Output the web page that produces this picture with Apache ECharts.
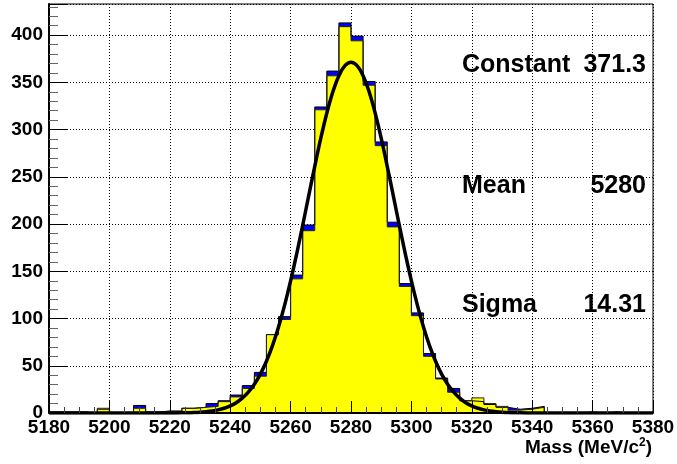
<!DOCTYPE html>
<html>
<head>
<meta charset="utf-8">
<title>Mass fit</title>
<script src="https://cdn.jsdelivr.net/npm/echarts@6.0.0/dist/echarts.min.js"></script>
<style>
	html, body { margin: 0; padding: 0; background: #fff; }
	#chart { width: 677px; height: 464px; }
</style>
</head>
<body>
<div id="chart"></div>
<script>
// 50 bins of 4 MeV, 5180 .. 5380
var binStart = 5180;
var binWidth = 4;

// yellow histogram (front)
var yellowCounts = [
	1, 1, 1, 0, 5, 0, 0, 5, 1, 2,
	2, 5, 6, 7, 12, 17, 26, 39, 83, 99,
	142, 193, 321, 357, 409, 394, 347, 283, 197, 134,
	103, 60, 36, 22, 13, 16, 10, 7, 3, 4,
	6, 0, 0, 0, 1, 0, 1, 0, 0, 0
];
// blue histogram (behind, shows as band on top)
var blueCounts = [
	1, 1, 1, 0, 4, 0, 0, 8, 1, 2,
	2, 5, 6, 10, 13, 19, 29, 43, 83, 102,
	146, 199, 324, 362, 413, 399, 351, 287, 202, 137,
	106, 63, 37, 26, 13, 12, 9, 6, 4, 5,
	7, 0, 0, 0, 1, 0, 1, 0, 0, 0
];

// gaussian fit curve
var curveX = [5180, 5200, 5216, 5220, 5224, 5226, 5228, 5230, 5232, 5234,
	5236, 5238, 5240, 5242, 5244, 5246, 5248, 5250, 5252, 5254,
	5256, 5258, 5260, 5262, 5264, 5266, 5268, 5270, 5272, 5274,
	5276, 5278, 5280, 5282, 5284, 5286, 5288, 5290, 5292, 5294,
	5296, 5298, 5300, 5302, 5304, 5306, 5308, 5310, 5312, 5314,
	5316, 5318, 5320, 5322, 5324, 5326, 5328, 5330, 5332, 5334,
	5336, 5340, 5344, 5360, 5380];
var curveY = [0, 0, 0, 0.06, 0.18, 0.3, 0.5, 0.83, 1.34, 2.12,
	3.29, 5.0, 7.46, 10.9, 15.7, 22.1, 30.5, 41.2, 54.8, 71.3,
	91.0, 113.9, 139.8, 168.3, 198.7, 230.1, 261.2, 290.9, 317.6, 340.1,
	357.1, 367.7, 371.3, 367.7, 357.1, 340.1, 317.6, 290.9, 261.2, 230.1,
	198.7, 168.3, 139.8, 113.9, 91.0, 71.3, 54.8, 41.2, 30.5, 22.1,
	15.7, 10.9, 7.46, 5.0, 3.29, 2.12, 1.34, 0.83, 0.5, 0.3,
	0.18, 0.06, 0, 0, 0];

var fitNames = ['Constant', 'Mean', 'Sigma'];
var fitValues = ['371.3', '5280', '14.31'];

var font = 'Liberation Sans';

function stepData(counts) {
	var d = [];
	for (var i = 0; i < counts.length; i++) {
		d.push([binStart + i * binWidth, counts[i]]);
	}
	d.push([binStart + counts.length * binWidth, counts[counts.length - 1]]);
	return d;
}

var curveData = [];
for (var i = 0; i < curveX.length; i++) {
	curveData.push([curveX[i], curveY[i]]);
}

var statsY = [65, 186, 305];
var graphics = [];
for (var k = 0; k < fitNames.length; k++) {
	graphics.push({
		type: 'text', x: 462, y: statsY[k], z: 100,
		style: { text: fitNames[k], font: 'bold 25px "' + font + '"', fill: '#000',
			textAlign: 'left', textVerticalAlign: 'middle', align: 'left', verticalAlign: 'middle' }
	});
	graphics.push({
		type: 'text', x: 646, y: statsY[k], z: 100,
		style: { text: fitValues[k], font: 'bold 25px "' + font + '"', fill: '#000',
			textAlign: 'right', textVerticalAlign: 'middle', align: 'right', verticalAlign: 'middle' }
	});
}
graphics.push({
	type: 'text', x: 652, y: 448, z: 100,
	style: {
		text: '{a|Mass (MeV/c}{b|2}{a|)}',
		textAlign: 'right', textVerticalAlign: 'middle', align: 'right', verticalAlign: 'middle',
		rich: {
			a: { fontSize: 19, fontWeight: 'bold', fontFamily: font, fill: '#000', color: '#000', lineHeight: 22 },
			b: { fontSize: 12, fontWeight: 'bold', fontFamily: font, fill: '#000', color: '#000', lineHeight: 22, verticalAlign: 'top' }
		}
	}
});

var labelStyle = { fontSize: 19, fontWeight: 'bold', fontFamily: font, color: '#000' };
var dotted = { color: '#000', width: 1, type: [1, 2] };

var option = {
	animation: false,
	backgroundColor: '#fff',
	grid: {
		left: 49, right: 24, top: 4, bottom: 51,
		show: true, borderColor: '#000', borderWidth: 1,
		containLabel: false, outerBoundsMode: 'none'
	},
	xAxis: [{
		type: 'value', min: 5180, max: 5380, interval: 20,
		position: 'bottom', z: 10,
		axisLine: { show: true, lineStyle: { color: '#000', width: 2 } },
		axisTick: { show: true, inside: true, length: 12, lineStyle: { color: '#000' } },
		minorTick: { show: true, splitNumber: 4, length: 6, lineStyle: { color: '#444' } },
		axisLabel: Object.assign({ margin: 5, showMinLabel: true, showMaxLabel: true,
			formatter: function(v) { return String(v); } }, labelStyle),
		splitLine: { show: false }
	}, {
		type: 'value', min: 5180, max: 5380, interval: 20,
		position: 'top', z: 0,
		axisLine: { show: false }, axisTick: { show: false }, axisLabel: { show: false },
		splitLine: { show: true, lineStyle: dotted }
	}],
	yAxis: {
		type: 'value', min: 0, max: 433, interval: 50,
		axisLine: { show: true, lineStyle: { color: '#000', width: 2 } },
		axisTick: { show: true, inside: true, length: 18, lineStyle: { color: '#000' } },
		minorTick: { show: true, splitNumber: 5, length: 9, lineStyle: { color: '#666' } },
		axisLabel: Object.assign({ margin: 6, showMinLabel: true, showMaxLabel: false,
			formatter: function(v) { return v % 50 === 0 ? String(v) : ''; } }, labelStyle),
		splitLine: { show: true, lineStyle: dotted }
	},
	graphic: graphics,
	series: [{
		type: 'line', step: 'end', data: stepData(blueCounts),
		symbol: 'none', silent: true,
		lineStyle: { color: '#000', width: 1 },
		areaStyle: { color: '#0000ff', opacity: 1 }
	}, {
		type: 'line', step: 'end', data: stepData(yellowCounts),
		symbol: 'none', silent: true,
		lineStyle: { color: '#222', width: 1 },
		areaStyle: { color: '#ffff00', opacity: 1 }
	}, {
		type: 'line', data: curveData, smooth: 0.3,
		symbol: 'none', silent: true,
		lineStyle: { color: '#000', width: 3.5, join: 'round' }
	}]
};

var chart = echarts.init(document.getElementById('chart'));
chart.setOption(option);
</script>
</body>
</html>
